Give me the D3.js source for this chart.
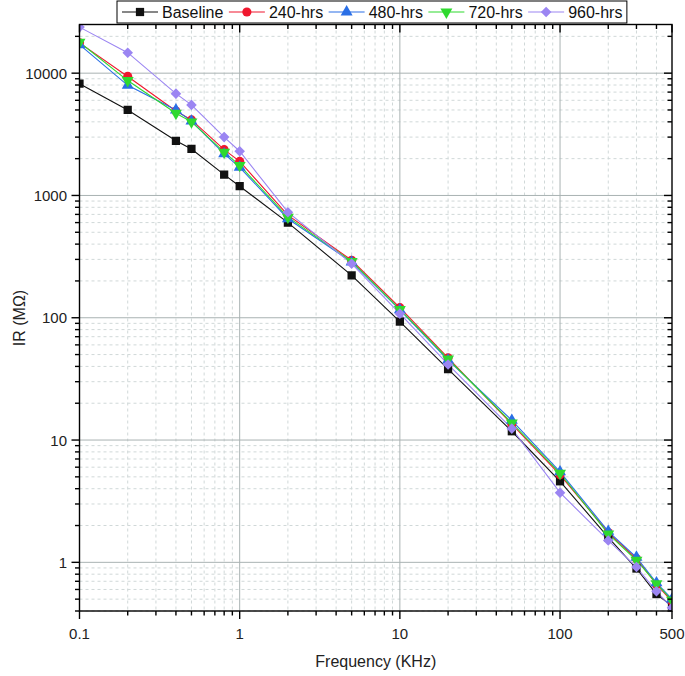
<!DOCTYPE html>
<html><head><meta charset="utf-8">
<script src="https://cdn.jsdelivr.net/npm/d3@7/dist/d3.min.js"></script>
<style>body{margin:0;background:#fff;} text{font-family:"Liberation Sans",Arial,sans-serif;}</style>
</head><body>
<svg id="c" width="685" height="676"></svg>
<script>
const freq = [0.1,0.2,0.4,0.5,0.8,1,2,5,10,20,50,100,200,300,400,500];
const baseline = [8200,5000,2800,2400,1480,1190,600,222,93,38,11.8,4.6,1.6,0.89,0.55,0.44];
const hrs240 = [17700,9400,4900,4150,2370,1900,690,295,121,47,13.5,5.2,1.75,1.07,0.66,0.48];
const hrs480 = [17100,7950,5000,4050,2190,1700,645,285,116,45,14.5,5.5,1.79,1.1,0.68,0.5];
const hrs720 = [17900,8700,4700,4000,2260,1760,665,289,117,46,13.8,5.35,1.71,1.04,0.67,0.49];
const hrs960 = [23800,14700,6800,5500,3000,2300,730,277,108,41.5,12.4,3.71,1.51,0.915,0.58,0.425];
const seriesNames = ["Baseline","240-hrs","480-hrs","720-hrs","960-hrs"];
const xTickLabels = [0.1,1,10,100,500];
const yTickLabels = [1,10,100,1000,10000];
const xTitle = "Frequency (KHz)";
const yTitle = "IR (MΩ)";

const series = [
  {name:seriesNames[0], values:baseline, color:"#111111", shape:"square"},
  {name:seriesNames[1], values:hrs240, color:"#f0172e", shape:"circle"},
  {name:seriesNames[2], values:hrs480, color:"#2a6fe6", shape:"up"},
  {name:seriesNames[3], values:hrs720, color:"#2fd92f", shape:"down"},
  {name:seriesNames[4], values:hrs960, color:"#9b85f2", shape:"diamond"}
];

const L=79.5, R=672, T=24.5, B=611;
const svg = d3.select("#c");
const x = d3.scaleLog().domain([0.1,500]).range([L,R]);
const y = d3.scaleLog().domain([0.4,25000]).range([B,T]);

const xMinor=[], yMinor=[];
[0.1,1,10,100].forEach(d=>{for(let k=2;k<=9;k++){const v=d*k; if(v<500) xMinor.push(v);}});
[0.1,1,10,100,1000,10000].forEach(d=>{for(let k=2;k<=9;k++){const v=d*k; if(v>0.4-1e-9 && v<25000) yMinor.push(v);}});
const xMajor=[1,10,100], yMajor=[1,10,100,1000,10000];

const g = svg.append("g");
g.selectAll(".gxm").data(xMinor).join("line").attr("x1",d=>x(d)).attr("x2",d=>x(d)).attr("y1",T).attr("y2",B)
  .attr("stroke","#d0d8d8").attr("stroke-width",1).attr("stroke-dasharray","3,3");
g.selectAll(".gym").data(yMinor).join("line").attr("y1",d=>y(d)).attr("y2",d=>y(d)).attr("x1",L).attr("x2",R)
  .attr("stroke","#d0d8d8").attr("stroke-width",1).attr("stroke-dasharray","3,3");
g.selectAll(".gx").data(xMajor).join("line").attr("x1",d=>x(d)).attr("x2",d=>x(d)).attr("y1",T).attr("y2",B)
  .attr("stroke","#a9b2b2").attr("stroke-width",1);
g.selectAll(".gy").data(yMajor).join("line").attr("y1",d=>y(d)).attr("y2",d=>y(d)).attr("x1",L).attr("x2",R)
  .attr("stroke","#a9b2b2").attr("stroke-width",1);

svg.append("defs").append("clipPath").attr("id","clip").append("rect").attr("x",L).attr("y",T).attr("width",R-L).attr("height",B-T);
const plot = svg.append("g").attr("clip-path","url(#clip)");

function sym(shape){
  if(shape==="square") return {d:d3.symbol(d3.symbolSquare,68)(), rot:0};
  if(shape==="circle") return {d:d3.symbol(d3.symbolCircle,66)(), rot:0};
  if(shape==="up") return {d:d3.symbol(d3.symbolTriangle,62)(), rot:0};
  if(shape==="down") return {d:d3.symbol(d3.symbolTriangle,62)(), rot:180};
  return {d:d3.symbol(d3.symbolSquare,56)(), rot:45};
}
const line = d3.line().x((d,i)=>x(freq[i])).y(d=>y(d));
series.forEach(s=>{
  plot.append("path").attr("d",line(s.values)).attr("fill","none").attr("stroke",s.color).attr("stroke-width",1.1);
});
series.forEach(s=>{
  const sm=sym(s.shape);
  plot.selectAll(null).data(s.values).join("path").attr("d",sm.d)
    .attr("transform",(d,i)=>`translate(${x(freq[i])},${y(d)}) rotate(${sm.rot})`)
    .attr("fill",s.color);
});

const ax = svg.append("g").attr("stroke","#000").attr("stroke-width",1.4);
ax.append("rect").attr("x",L).attr("y",T).attr("width",R-L).attr("height",B-T).attr("fill","none");
const xMajT=[0.1,1,10,100,500];
xMajT.forEach(v=>{ax.append("line").attr("x1",x(v)).attr("x2",x(v)).attr("y1",B).attr("y2",B+8);
  ax.append("line").attr("x1",x(v)).attr("x2",x(v)).attr("y1",T).attr("y2",T+8);});
xMinor.forEach(v=>{ax.append("line").attr("x1",x(v)).attr("x2",x(v)).attr("y1",B).attr("y2",B+4.5);
  ax.append("line").attr("x1",x(v)).attr("x2",x(v)).attr("y1",T).attr("y2",T+4.5);});
yMajor.forEach(v=>{ax.append("line").attr("y1",y(v)).attr("y2",y(v)).attr("x1",L).attr("x2",L-8);
  ax.append("line").attr("y1",y(v)).attr("y2",y(v)).attr("x1",R).attr("x2",R-8);});
yMinor.forEach(v=>{ax.append("line").attr("y1",y(v)).attr("y2",y(v)).attr("x1",L).attr("x2",L-4.5);
  ax.append("line").attr("y1",y(v)).attr("y2",y(v)).attr("x1",R).attr("x2",R-4.5);});

svg.selectAll(".xl").data(xTickLabels).join("text").attr("x",d=>x(d)).attr("y",639).attr("text-anchor","middle")
  .attr("font-size",15).attr("fill","#222").text(d=>String(d));
svg.selectAll(".yl").data(yTickLabels).join("text").attr("x",67).attr("y",d=>y(d)+5.5).attr("text-anchor","end")
  .attr("font-size",15).attr("fill","#222").text(d=>String(d));
svg.append("text").attr("x",(L+R)/2).attr("y",667).attr("text-anchor","middle").attr("font-size",16).attr("fill","#222").text(xTitle);
svg.append("text").attr("transform",`translate(25,318) rotate(-90)`).attr("text-anchor","middle").attr("font-size",16).attr("fill","#222").text(yTitle);

const lg = svg.append("g");
const box = lg.append("rect").attr("y",1).attr("height",22).attr("fill","#fff").attr("stroke","#000").attr("stroke-width",1);
let cx = 122;
series.forEach(s=>{
  lg.append("line").attr("x1",cx).attr("x2",cx+36).attr("y1",12).attr("y2",12).attr("stroke",s.color).attr("stroke-width",1.1);
  const sm=sym(s.shape);
  lg.append("path").attr("d",sm.d).attr("transform",`translate(${cx+18},12) rotate(${sm.rot})`).attr("fill",s.color);
  const t = lg.append("text").attr("x",cx+40).attr("y",17.5).attr("font-size",16).attr("fill","#111").text(s.name);
  cx = cx+40+t.node().getComputedTextLength()+5.5;
});
box.attr("x",117).attr("width",cx-117-1);
</script>
</body></html>
